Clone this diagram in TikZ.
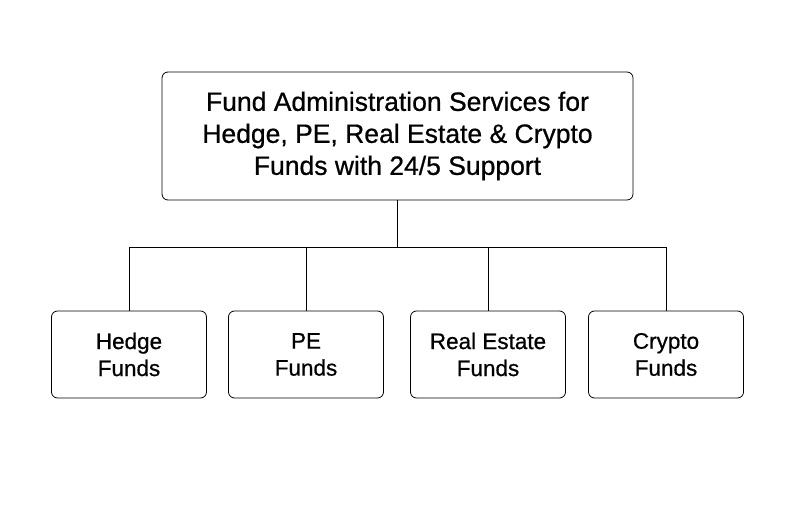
\documentclass[tikz,border=0pt]{standalone}
\usepackage{fontspec}
\setmainfont{Liberation Sans}[UprightFeatures={FakeBold=0.7}]
\begin{document}
\begin{tikzpicture}[x=1pt,y=-1pt,
	top/.style={
		rectangle,
		draw=black,
		thick,
		align=center,
		rounded corners=6pt,
		minimum height=128pt,
		minimum width=471pt,
		font=\fontsize{26.5}{32}\selectfont
	},
	fund/.style={
		rectangle,
		draw=black,
		thick,
		align=center,
		rounded corners=6pt,
		minimum height=87pt,
		minimum width=155pt,
		font=\fontsize{22.5}{27}\selectfont
	},
]
\useasboundingbox (0,0) rectangle (794,529);

% Top
\node[top] (admin) at (397.5,136) {Fund Administration Services for\\ Hedge, PE, Real Estate \& Crypto\\ Funds with 24/5 Support};

% Funds
\node[fund] (hedge) at (129,354.5) {Hedge\\Funds};
\node[fund] (pe) at (306,354.5) {PE\\Funds};
\node[fund] (re) at (488,354.5) {Real Estate\\Funds};
\node[fund] (crypto) at (666,354.5) {Crypto\\Funds};

\draw[thick] (admin.south) -- ++(0,47) -| (hedge.north);
\draw[thick] (admin.south) -- ++(0,47) -| (pe.north);
\draw[thick] (admin.south) -- ++(0,47) -| (re.north);
\draw[thick] (admin.south) -- ++(0,47) -| (crypto.north);

\end{tikzpicture}
\end{document}
